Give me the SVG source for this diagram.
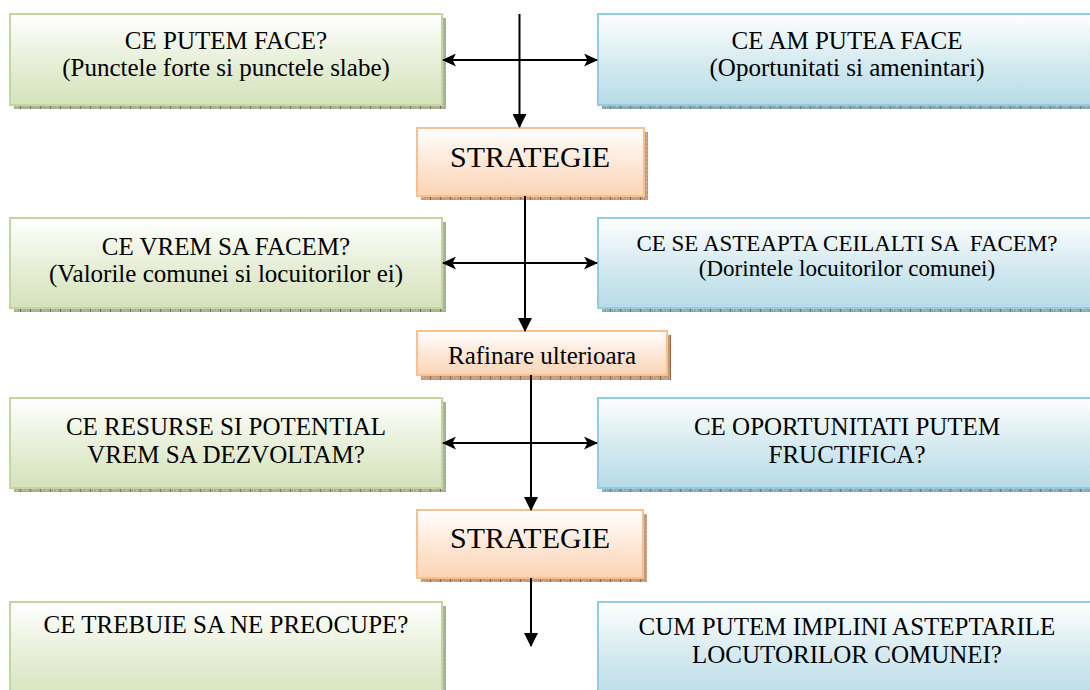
<svg xmlns="http://www.w3.org/2000/svg" width="1090" height="690" viewBox="0 0 1090 690">
<defs>
<linearGradient id="gGreen" x1="0" y1="0" x2="0" y2="1"><stop offset="0" stop-color="#ffffff"/><stop offset="0.55" stop-color="#e6eed6"/><stop offset="1" stop-color="#d5e2bb"/></linearGradient>
<linearGradient id="gBlue" x1="0" y1="0" x2="0" y2="1"><stop offset="0" stop-color="#ffffff"/><stop offset="0.55" stop-color="#d3e9ef"/><stop offset="1" stop-color="#b6dce7"/></linearGradient>
<linearGradient id="gOrange" x1="0" y1="0" x2="0" y2="1"><stop offset="0" stop-color="#ffffff"/><stop offset="0.55" stop-color="#fde6d4"/><stop offset="1" stop-color="#fbd4b4"/></linearGradient>
<pattern id="pGreen" width="10" height="4" patternUnits="userSpaceOnUse"><rect width="10" height="4" fill="#a7b097"/><rect x="0" y="0" width="1" height="4" fill="#6c7a55"/><rect x="3" y="1" width="1" height="1" fill="#c9cfbd"/><rect x="6" y="2" width="1" height="1" fill="#c9cfbd"/></pattern>
<pattern id="pBlue" width="10" height="4" patternUnits="userSpaceOnUse"><rect width="10" height="4" fill="#8fa8ae"/><rect x="0" y="0" width="1" height="4" fill="#5b7e88"/><rect x="3" y="1" width="1" height="1" fill="#c0d0d4"/><rect x="6" y="2" width="1" height="1" fill="#c0d0d4"/></pattern>
<pattern id="pOrange" width="10" height="4" patternUnits="userSpaceOnUse"><rect width="10" height="4" fill="#c39a7c"/><rect x="0" y="0" width="1" height="4" fill="#98673f"/><rect x="3" y="1" width="1" height="1" fill="#e2c9b6"/><rect x="6" y="2" width="1" height="1" fill="#e2c9b6"/></pattern>
<marker id="aH" viewBox="0 0 14 13" refX="13" refY="6.5" markerWidth="14" markerHeight="13" markerUnits="userSpaceOnUse" orient="auto-start-reverse"><path d="M0,0 L14,6.5 L0,13 L3.5,6.5 z" fill="#000"/></marker>
<marker id="aV" viewBox="0 0 14 14" refX="13" refY="7" markerWidth="14" markerHeight="14" markerUnits="userSpaceOnUse" orient="auto"><path d="M0,0 L14,7 L0,14 z" fill="#000"/></marker>
</defs>
<style>
.green{fill:url(#gGreen);stroke:#c3d69b;stroke-width:2}
.blue{fill:url(#gBlue);stroke:#93cddd;stroke-width:2}
.orange{fill:url(#gOrange);stroke:#fabf8f;stroke-width:2}
.sg{fill:url(#pGreen)}
.sb{fill:url(#pBlue)}
.so{fill:url(#pOrange)}
.t{font-size:25px}
.ts{font-size:23px}
.tl{font-size:30px}
.c{stroke:#000;stroke-width:2;fill:none}
</style>
<rect width="1090" height="690" fill="#ffffff"/>
<g fill="#000" text-anchor="middle" font-family="'Liberation Serif', FreeSerif, 'Times New Roman', 'DejaVu Serif', serif">
<g id="n-green1"><rect class="sg" x="14" y="18" width="432" height="91"/><rect class="green" x="10" y="14" width="432" height="91"/><text class="t" x="226" y="48.5">CE PUTEM FACE?</text><text class="t" x="226" y="76">(Punctele forte si punctele slabe)</text></g>
<g id="n-blue1"><rect class="sb" x="602" y="18" width="500" height="91"/><rect class="blue" x="598" y="14" width="500" height="91"/><text class="t" x="847" y="48.5">CE AM PUTEA FACE</text><text class="t" x="847" y="76">(Oportunitati si amenintari)</text></g>
<g id="n-strategie1"><rect class="so" x="421" y="132" width="227" height="68"/><rect class="orange" x="417" y="128" width="227" height="68"/><text class="tl" x="530" y="167">STRATEGIE</text></g>

<g id="n-green2"><rect class="sg" x="14" y="222" width="432" height="90"/><rect class="green" x="10" y="218" width="432" height="90"/><text class="t" x="226" y="255">CE VREM SA FACEM?</text><text class="t" x="226" y="282">(Valorile comunei si locuitorilor ei)</text></g>
<g id="n-blue2"><rect class="sb" x="602" y="222" width="500" height="90"/><rect class="blue" x="598" y="218" width="500" height="90"/><text class="ts" x="847" y="251" xml:space="preserve">CE SE ASTEAPTA CEILALTI SA  FACEM?</text><text class="ts" x="847" y="276">(Dorintele locuitorilor comunei)</text></g>
<g id="n-rafinare"><rect class="so" x="421" y="335" width="250" height="45"/><rect class="orange" x="417" y="331" width="250" height="44"/><text class="t" x="542" y="364">Rafinare ulterioara</text></g>

<g id="n-green3"><rect class="sg" x="14" y="402" width="432" height="90"/><rect class="green" x="10" y="398" width="432" height="90"/><text class="t" x="226" y="435">CE RESURSE SI POTENTIAL</text><text class="t" x="226" y="463">VREM SA DEZVOLTAM?</text></g>
<g id="n-blue3"><rect class="sb" x="602" y="402" width="500" height="90"/><rect class="blue" x="598" y="398" width="500" height="90"/><text class="t" x="847" y="435">CE OPORTUNITATI PUTEM</text><text class="t" x="847" y="463">FRUCTIFICA?</text></g>
<g id="n-strategie2"><rect class="so" x="421" y="514" width="226" height="68"/><rect class="orange" x="417" y="510" width="226" height="68"/><text class="tl" x="530" y="548">STRATEGIE</text></g>

<g id="n-green4"><rect class="sg" x="14" y="606" width="432" height="100"/><rect class="green" x="10" y="602" width="432" height="100"/><text class="t" x="226" y="633">CE TREBUIE SA NE PREOCUPE?</text></g>
<g id="n-blue4"><rect class="sb" x="602" y="606" width="500" height="100"/><rect class="blue" x="598" y="602" width="500" height="100"/><text class="t" x="847" y="635">CUM PUTEM IMPLINI ASTEPTARILE</text><text class="t" x="847" y="663">LOCUTORILOR COMUNEI?</text></g>
</g>
<g id="connectors">
<line class="c" x1="519.5" y1="14" x2="519.5" y2="127" marker-end="url(#aV)"/>
<line class="c" x1="443" y1="60" x2="597" y2="60" marker-start="url(#aH)" marker-end="url(#aH)"/>
<line class="c" x1="525" y1="196" x2="525" y2="331" marker-end="url(#aV)"/>
<line class="c" x1="443" y1="263" x2="597" y2="263" marker-start="url(#aH)" marker-end="url(#aH)"/>
<line class="c" x1="531" y1="375" x2="531" y2="510" marker-end="url(#aV)"/>
<line class="c" x1="443" y1="443" x2="597" y2="443" marker-start="url(#aH)" marker-end="url(#aH)"/>
<line class="c" x1="531" y1="578" x2="531" y2="646" marker-end="url(#aV)"/>
</g>
</svg>
